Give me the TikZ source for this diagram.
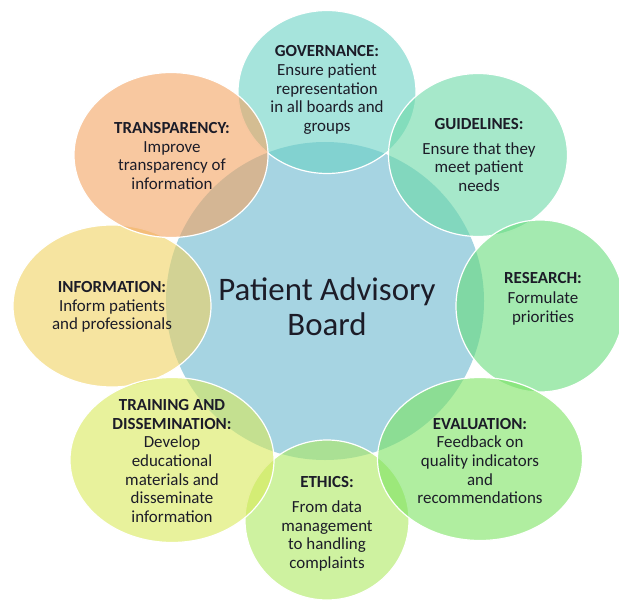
\documentclass[tikz,border=0pt]{standalone}
\usepackage{fontspec}
\setmainfont{Carlito}
\usetikzlibrary{shapes.geometric}
\definecolor{cblue}{RGB}{166,212,226}
\definecolor{cgov}{RGB}{107,210,197}
\definecolor{cguide}{RGB}{107,217,167}
\definecolor{cres}{RGB}{103,220,123}
\definecolor{ceval}{RGB}{123,227,97}
\definecolor{ceth}{RGB}{173,233,97}
\definecolor{ctrain}{RGB}{217,233,90}
\definecolor{cinfo}{RGB}{240,210,97}
\definecolor{ctrans}{RGB}{243,163,97}
\definecolor{textc}{RGB}{28,28,40}
\tikzset{
  hub/.style={circle, fill=cblue, draw=none, inner sep=0pt, minimum size=318bp},
  bubble/.style={ellipse, draw=white, line width=1.2bp, fill opacity=0.6, draw opacity=1, inner sep=0pt},
  bubtext/.style={align=center, text=textc, font=\fontsize{17}{18.8}\selectfont, inner sep=0pt},
  hubtext/.style={align=center, text=textc, font=\fontsize{33}{35}\selectfont, inner sep=0pt}
}
\begin{document}
\begin{tikzpicture}[x=1bp,y=-1bp]
\useasboundingbox (0,0) rectangle (619,601);
\node[hub] (hub) at (325,301) {};
\node[bubble, fill=ceth, minimum width=164bp, minimum height=160bp] (ethics) at (327,520) {};
\node[bubble, fill=cgov, minimum width=178bp, minimum height=163bp] (gov) at (327,92) {};
\node[bubble, fill=cguide, minimum width=179bp, minimum height=163bp] (guide) at (478,155) {};
\node[bubble, fill=cres, minimum width=168bp, minimum height=172bp] (res) at (540,306) {};
\node[bubble, fill=ceval, minimum width=205bp, minimum height=163bp] (eval) at (480,459) {};
\node[bubble, fill=cinfo, minimum width=198bp, minimum height=162bp] (info) at (112,306) {};
\node[bubble, fill=ctrans, minimum width=194bp, minimum height=165bp] (trans) at (171,155) {};
\node[bubble, fill=ctrain, minimum width=204bp, minimum height=165bp] (train) at (172,460) {};

\node[hubtext] (thub) at (327,307) {Patient Advisory\\Board};
\node[bubtext] (tgov) at (327,90) {\textbf{GOVERNANCE:}\\Ensure patient\\representation\\in all boards and\\groups};
\node[bubtext] (tguide) at (479,155) {\textbf{GUIDELINES:}\\[6bp]Ensure that they\\meet patient\\needs};
\node[bubtext] (tres) at (543,299) {\textbf{RESEARCH:}\\[1bp]Formulate\\[1bp]priorities};
\node[bubtext] (teval) at (480,461) {\textbf{EVALUATION:}\\Feedback on\\quality indicators\\and\\recommendations};
\node[bubtext] (teth) at (327,524) {\textbf{ETHICS:}\\[6bp]From data\\management\\to handling\\complaints};
\node[bubtext] (ttrain) at (172,461) {\textbf{TRAINING AND}\\\textbf{DISSEMINATION:}\\Develop\\educational\\materials and\\disseminate\\information};
\node[bubtext] (tinfo) at (112,307) {\textbf{INFORMATION:}\\Inform patients\\and professionals};
\node[bubtext] (ttrans) at (172,156) {\textbf{TRANSPARENCY:}\\Improve\\transparency of\\information};
\end{tikzpicture}
\end{document}
